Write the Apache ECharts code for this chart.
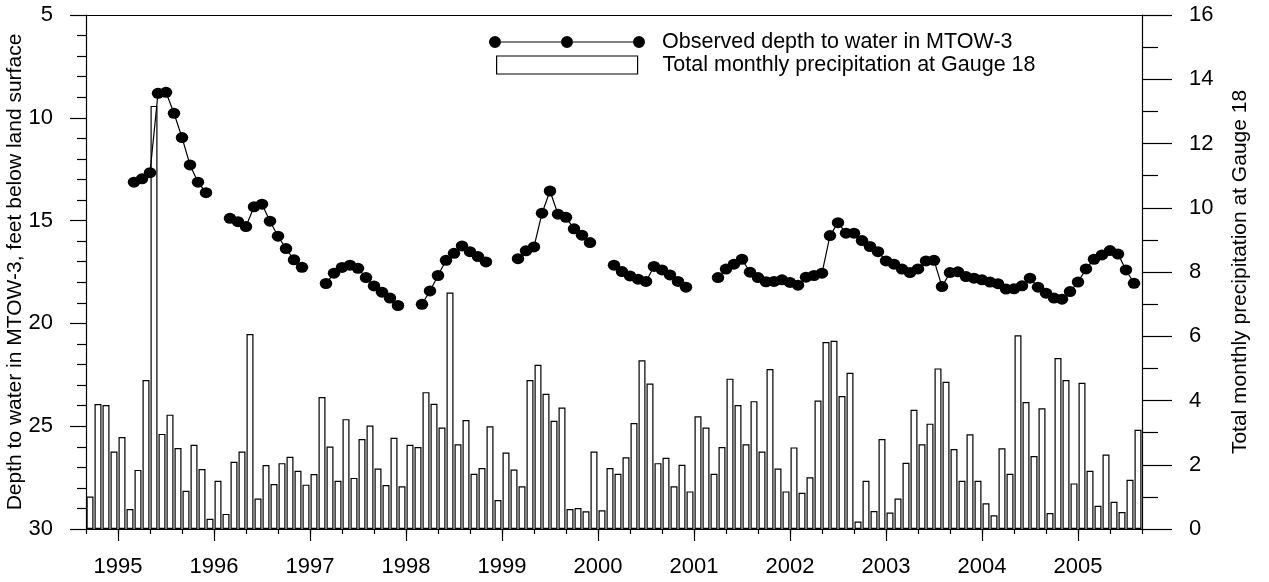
<!DOCTYPE html>
<html>
<head>
<meta charset="utf-8">
<script src="https://cdn.jsdelivr.net/npm/echarts@6/dist/echarts.min.js"></script>
<style>
  html, body { margin: 0; padding: 0; background: #fff; }
  #chart { width: 1269px; height: 582px; }
</style>
</head>
<body>
<div id="chart"></div>
<script>
// Monthly record from Sep 1994 through Aug 2005 (index 0 = Sep 1994).
const firstYear = 1994;
const firstMonth = 9;

// Total monthly precipitation at Gauge 18, inches.
const precipitation = [
  1.01, 3.89, 3.86, 2.41,                                                   // 1994 Sep-Dec
  2.86, 0.62, 1.84, 4.64, 13.17, 2.96, 3.56, 2.52, 1.19, 2.62, 1.87, 0.32,  // 1995
  1.50, 0.47, 2.09, 2.41, 6.07, 0.95, 1.99, 1.40, 2.05, 2.25, 1.81, 1.38,   // 1996
  1.71, 4.11, 2.57, 1.50, 3.42, 1.59, 2.80, 3.22, 1.88, 1.37, 2.84, 1.33,   // 1997
  2.62, 2.55, 4.26, 3.90, 3.16, 7.36, 2.64, 3.39, 1.72, 1.90, 3.20, 0.90,   // 1998
  2.38, 1.85, 1.33, 4.64, 5.11, 4.21, 3.37, 3.78, 0.62, 0.65, 0.55, 2.41,   // 1999
  0.58, 1.90, 1.72, 2.23, 3.30, 5.25, 4.53, 2.05, 2.22, 1.33, 2.00, 1.17,   // 2000
  3.51, 3.16, 1.72, 2.55, 4.68, 3.86, 2.64, 3.98, 2.41, 4.98, 1.88, 1.17,   // 2001
  2.54, 1.13, 1.61, 4.00, 5.82, 5.86, 4.14, 4.86, 0.23, 1.50, 0.56, 2.80,   // 2002
  0.51, 0.95, 2.06, 3.71, 2.64, 3.28, 5.00, 4.58, 2.49, 1.50, 2.95, 1.50,   // 2003
  0.80, 0.43, 2.51, 1.72, 6.03, 3.95, 2.27, 3.76, 0.50, 5.32, 4.64, 1.42,   // 2004
  4.55, 1.81, 0.72, 2.32, 0.85, 0.53, 1.53, 3.09                            // 2005 Jan-Aug
];

// Depth to water in MTOW-3 (feet below land surface), read at the start of each month.
const depthToWater = [
  null, null, null, null,                                                              // 1994 Sep-Dec
  null, null, 13.13, 12.97, 12.67, 8.81, 8.76, 9.78, 10.96, 12.29, 13.13, 13.64,       // 1995
  null, null, 14.89, 15.05, 15.29, 14.33, 14.20, 15.03, 15.76, 16.36, 16.91, 17.27,    // 1996
  null, null, 18.06, 17.56, 17.28, 17.17, 17.32, 17.77, 18.18, 18.48, 18.77, 19.13,    // 1997
  null, null, 19.07, 18.42, 17.67, 16.93, 16.59, 16.23, 16.51, 16.75, 17.01, null,     // 1998
  null, null, 16.85, 16.47, 16.28, 14.64, 13.56, 14.69, 14.84, 15.40, 15.71, 16.07,    // 1999
  null, null, 17.17, 17.48, 17.69, 17.85, 17.96, 17.23, 17.40, 17.64, 17.96, 18.24,    // 2000
  null, null, null, 17.77, 17.36, 17.12, 16.88, 17.51, 17.77, 17.98, 17.96, 17.88,     // 2001
  18.01, 18.14, 17.75, 17.67, 17.56, 15.73, 15.10, 15.61, 15.61, 15.97, 16.26, 16.51,  // 2002
  16.96, 17.12, 17.36, 17.53, 17.35, 16.96, 16.93, 18.21, 17.53, 17.49, 17.72, 17.80,  // 2003
  17.88, 17.99, 18.07, 18.33, 18.32, 18.17, 17.80, 18.24, 18.53, 18.77, 18.82, 18.45,  // 2004
  17.99, 17.35, 16.88, 16.67, 16.46, 16.63, 17.40, 18.05                               // 2005 Jan-Aug
];

const yearLabels = ['1995', '1996', '1997', '1998', '1999', '2000', '2001', '2002', '2003', '2004', '2005'];

const depthName = 'Observed depth to water in MTOW-3';
const precipName = 'Total monthly precipitation at Gauge 18';

// x is measured in months since Jan of firstYear.
const monthOffset = firstMonth - 1;
const xMin = monthOffset;
const xMax = monthOffset + precipitation.length;
const yearPositions = yearLabels.map(y => (Number(y) - firstYear) * 12);

const barData = precipitation.map((v, i) => [monthOffset + i + 0.5, v]);
const lineData = depthToWater.map((v, i) => [monthOffset + i, v == null ? '-' : v]);

const FONT = 'Liberation Sans, Arial, Helvetica, sans-serif';
const tickText = { fontFamily: FONT, fontSize: 22, color: '#000' };
const nameText = { fontFamily: FONT, fontSize: 21, color: '#000' };
const legendText = { fontFamily: FONT, fontSize: 21.5, color: '#000' };
const axisLineStyle = { color: '#000', width: 1.2 };

const chart = echarts.init(document.getElementById('chart'), null, { renderer: 'canvas' });

chart.setOption({
  animation: false,
  backgroundColor: '#fff',
  textStyle: { fontFamily: FONT, color: '#000' },
  grid: { left: 86, right: 127, top: 15, bottom: 53, containLabel: false, outerBoundsMode: 'none' },
  legend: [
    {
      data: [{
        name: depthName,
        icon: 'path://M0 6A6 6 0 1 1 12 6A6 6 0 1 1 0 6Z M72 6A6 6 0 1 1 84 6A6 6 0 1 1 72 6Z M144 6A6 6 0 1 1 156 6A6 6 0 1 1 144 6Z M12 5.4H72V6.6H12Z M84 5.4H144V6.6H84Z M168 6',
        itemStyle: { color: '#000', borderWidth: 0 }
      }],
      left: 489, top: 31, padding: 0,
      itemWidth: 168, itemHeight: 12,
      selectedMode: false,
      textStyle: legendText
    },
    {
      data: [{
        name: precipName,
        icon: 'path://M0 0H141V18H0Z M161 9',
        itemStyle: { color: '#fff', borderColor: '#000', borderWidth: 1.2 }
      }],
      left: 496, top: 54, padding: 0,
      itemWidth: 161, itemHeight: 18,
      selectedMode: false,
      textStyle: legendText
    }
  ],
  xAxis: [
    {
      type: 'value', position: 'bottom', min: xMin, max: xMax, interval: 4,
      axisLine: { show: true, lineStyle: axisLineStyle },
      axisTick: { show: true, length: 5, lineStyle: axisLineStyle },
      axisLabel: {
        ...tickText, margin: 27,
        customValues: yearPositions,
        formatter: v => yearLabels[yearPositions.indexOf(v)] || ''
      },
      splitLine: { show: false }
    },
    {
      // longer ticks at the start of each year
      type: 'value', position: 'bottom', min: xMin, max: xMax,
      axisLine: { show: false },
      axisTick: { show: true, length: 12, customValues: yearPositions, lineStyle: axisLineStyle },
      axisLabel: { show: false },
      splitLine: { show: false }
    },
    {
      // top frame line
      type: 'value', position: 'top', min: xMin, max: xMax,
      axisLine: { show: true, lineStyle: axisLineStyle },
      axisTick: { show: false },
      axisLabel: { show: false },
      splitLine: { show: false }
    }
  ],
  yAxis: [
    {
      type: 'value', position: 'left', inverse: true, min: 5, max: 30, interval: 5,
      name: 'Depth to water in MTOW-3, feet below land surface',
      nameLocation: 'middle', nameGap: 60, nameMoveOverlap: false,
      nameTextStyle: nameText,
      axisLine: { show: true, lineStyle: axisLineStyle },
      axisTick: { show: true, length: 16, lineStyle: axisLineStyle },
      minorTick: { show: true, splitNumber: 5, length: 9, lineStyle: axisLineStyle },
      axisLabel: { ...tickText, margin: 33 },
      splitLine: { show: false }
    },
    {
      type: 'value', position: 'right', min: 0, max: 16, interval: 2,
      name: precipName,
      nameLocation: 'middle', nameGap: 88,
      nameTextStyle: nameText,
      axisLine: { show: true, lineStyle: axisLineStyle },
      axisTick: { show: true, length: 30, lineStyle: axisLineStyle },
      minorTick: { show: true, splitNumber: 2, length: 16, lineStyle: axisLineStyle },
      axisLabel: { ...tickText, margin: 47 },
      splitLine: { show: false }
    }
  ],
  series: [
    {
      name: precipName,
      type: 'bar',
      xAxisIndex: 0, yAxisIndex: 1,
      data: barData,
      barWidth: 7,
      itemStyle: { color: '#fff', borderColor: '#000', borderWidth: 1.2 },
      z: 2
    },
    {
      name: depthName,
      type: 'line',
      xAxisIndex: 0, yAxisIndex: 0,
      data: lineData,
      connectNulls: false,
      symbol: 'circle',
      symbolSize: [12.5, 11],
      lineStyle: { color: '#000', width: 1.2 },
      itemStyle: { color: '#000', borderWidth: 0 },
      z: 5
    }
  ]
});
</script>
</body>
</html>
